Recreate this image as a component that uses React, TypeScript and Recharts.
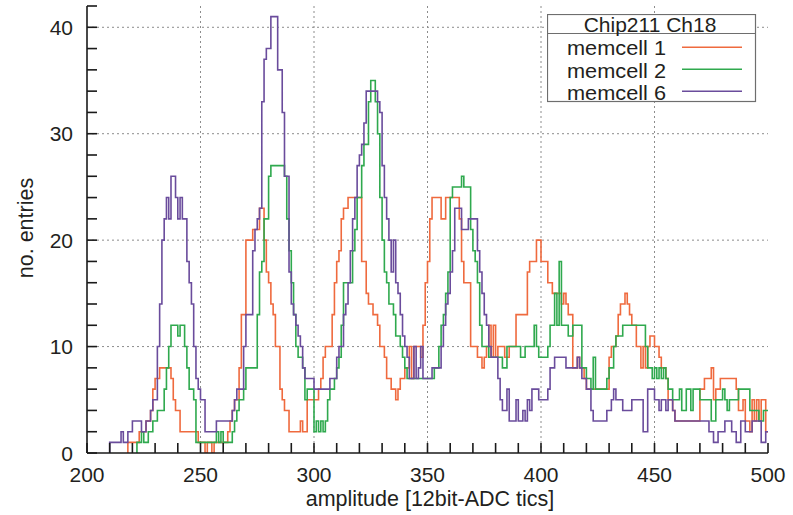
import React from 'react';
import { LineChart, Line, XAxis, YAxis, CartesianGrid, Legend } from 'recharts';

const FONT = '"Liberation Sans", Arial, Helvetica, sans-serif';

// tick values
const xTicks = [200, 210, 220, 230, 240, 250, 260, 270, 280, 290, 300, 310, 320, 330, 340, 350, 360, 370, 380, 390, 400, 410, 420, 430, 440, 450, 460, 470, 480, 490, 500];
const xLabelled = [200, 250, 300, 350, 400, 450, 500];
const yTicks = [0, 2, 4, 6, 8, 10, 12, 14, 16, 18, 20, 22, 24, 26, 28, 30, 32, 34, 36, 38, 40, 42];
const yLabelled = [0, 10, 20, 30, 40];
const xGrid = [250, 300, 350, 400, 450];
const yGrid = [10, 20, 30, 40];

// histogram steps: [bin start (ADC tic), entries]
const memcell1: [number, number][] = [
  [218, 0], [218, 1], [223, 2], [226, 3], [228, 4], [229, 6], [230, 7], [232, 8], [237, 7], [238, 5], [239, 4], [241, 2],
  [249, 1], [252, 0], [253, 1], [255, 0], [256, 1], [262, 2], [263, 3], [264, 4], [265, 5], [267, 8], [268, 13], [270, 20],
  [273, 21], [276, 23], [278, 20], [279, 17], [280, 16], [281, 14], [282, 13], [283, 10], [285, 6], [286, 5], [287, 4],
  [289, 2], [294, 3], [295, 2], [297, 5], [302, 6], [303, 7], [304, 9], [305, 10], [308, 13], [309, 16], [310, 18],
  [311, 19], [312, 22], [313, 23], [315, 24], [321, 18], [323, 15], [324, 14], [326, 13], [328, 12], [329, 10], [331, 9],
  [332, 7], [334, 6], [336, 5], [337, 6], [338, 7], [340, 8], [342, 10], [343, 7], [344, 10], [347, 9], [348, 12],
  [349, 16], [350, 18], [351, 22], [352, 24], [356, 22], [358, 24], [364, 22], [365, 18], [366, 16], [369, 10], [372, 9],
  [374, 8], [375, 9], [376, 10], [377, 12], [378, 9], [379, 12], [380, 9], [381, 10], [384, 9], [386, 10], [389, 13],
  [394, 17], [395, 18], [398, 20], [400, 18], [403, 16], [405, 15], [409, 14], [410, 15], [411, 14], [412, 13], [414, 8],
  [416, 9], [417, 8], [419, 7], [420, 6], [430, 9], [431, 10], [433, 11], [434, 13], [435, 14], [437, 15], [438, 14],
  [439, 13], [440, 12], [442, 10], [444, 8], [445, 10], [446, 8], [447, 10], [448, 11], [450, 10], [452, 9], [453, 8],
  [455, 7], [456, 5], [458, 4], [459, 3], [470, 6], [472, 7], [475, 8], [476, 5], [477, 6], [479, 7], [486, 6], [487, 4],
  [489, 5], [490, 3], [492, 2], [493, 5], [494, 3], [495, 5], [496, 3], [497, 5], [499, 2], [500, 2],
];

const memcell2: [number, number][] = [
  [222, 0], [222, 1], [224, 2], [225, 1], [227, 2], [229, 3], [231, 4], [234, 6], [235, 8], [236, 10], [237, 12], [240, 11],
  [241, 12], [243, 10], [244, 8], [245, 6], [247, 5], [248, 1], [257, 2], [258, 1], [259, 2], [260, 1], [264, 2], [265, 3],
  [266, 4], [267, 5], [269, 6], [270, 8], [275, 13], [276, 17], [277, 18], [278, 22], [280, 26], [281, 27], [287, 26],
  [288, 22], [289, 19], [290, 16], [291, 13], [292, 10], [293, 9], [295, 8], [296, 5], [297, 6], [300, 2], [301, 3],
  [302, 2], [303, 3], [304, 2], [305, 3], [306, 5], [307, 6], [309, 7], [310, 8], [311, 9], [312, 12], [313, 16], [317, 19],
  [318, 21], [319, 24], [321, 27], [322, 29], [324, 33], [325, 35], [327, 33], [328, 30], [329, 24], [330, 20], [331, 17],
  [332, 16], [333, 14], [335, 13], [336, 11], [338, 10], [339, 9], [340, 8], [341, 7], [353, 8], [355, 10], [356, 12],
  [357, 13], [358, 15], [359, 17], [360, 24], [361, 25], [365, 26], [366, 25], [369, 21], [370, 19], [371, 18], [372, 16],
  [373, 12], [374, 10], [377, 9], [383, 8], [385, 10], [391, 9], [393, 10], [397, 12], [398, 10], [399, 9], [403, 10],
  [404, 12], [406, 15], [407, 12], [408, 18], [409, 12], [412, 11], [414, 12], [418, 8], [420, 7], [422, 6], [423, 9],
  [424, 6], [429, 7], [430, 8], [432, 10], [433, 11], [436, 12], [446, 10], [447, 8], [449, 7], [450, 8], [451, 7],
  [452, 8], [453, 7], [454, 8], [455, 7], [456, 6], [458, 5], [461, 6], [462, 4], [464, 6], [466, 4], [467, 6], [470, 5],
  [475, 3], [477, 5], [480, 6], [481, 5], [482, 4], [483, 5], [487, 6], [492, 4], [496, 3], [498, 4], [500, 4],
];

const memcell6: [number, number][] = [
  [210, 0], [210, 1], [215, 2], [216, 1], [218, 2], [220, 3], [224, 2], [226, 3], [228, 4], [229, 5], [231, 10], [232, 14],
  [233, 20], [234, 22], [235, 24], [236, 22], [237, 26], [239, 24], [240, 22], [241, 24], [242, 22], [244, 18], [245, 16],
  [246, 14], [247, 10], [248, 7], [249, 6], [250, 5], [252, 2], [257, 3], [264, 4], [265, 5], [266, 6], [269, 10], [270, 13],
  [273, 19], [274, 21], [275, 22], [276, 23], [277, 33], [278, 37], [279, 38], [281, 41], [284, 36], [286, 32], [287, 26],
  [289, 17], [290, 14], [291, 13], [292, 12], [293, 11], [294, 10], [295, 8], [296, 7], [300, 6], [307, 7], [310, 9],
  [311, 10], [313, 13], [314, 14], [315, 16], [316, 19], [317, 22], [318, 24], [319, 27], [320, 28], [321, 29], [322, 31],
  [323, 34], [328, 33], [329, 32], [330, 27], [331, 24], [332, 22], [333, 20], [334, 17], [335, 20], [336, 16], [337, 15],
  [338, 13], [339, 11], [340, 10], [341, 9], [342, 7], [344, 10], [345, 7], [346, 8], [347, 10], [348, 7], [352, 8],
  [356, 10], [357, 12], [358, 14], [359, 15], [360, 17], [361, 19], [362, 23], [365, 21], [368, 22], [372, 19], [373, 17],
  [374, 15], [375, 13], [376, 12], [377, 10], [378, 9], [381, 7], [382, 5], [383, 4], [385, 6], [386, 3], [388, 3],
  [389, 5], [390, 3], [392, 4], [393, 3], [394, 5], [395, 4], [396, 6], [399, 5], [403, 6], [404, 8], [406, 9], [411, 8],
  [416, 9], [417, 8], [418, 7], [420, 6], [422, 4], [423, 3], [429, 4], [431, 5], [432, 6], [433, 5], [436, 4], [440, 5],
  [445, 2], [447, 6], [450, 5], [452, 4], [453, 5], [455, 4], [456, 5], [458, 4], [459, 3], [474, 2], [476, 1], [478, 2],
  [481, 3], [484, 2], [486, 1], [488, 3], [490, 2], [493, 3], [497, 1], [499, 2], [500, 2],
];

const seriesNames = ['memcell 1', 'memcell 2', 'memcell 6'];
const seriesColors = ['#ef6a3e', '#2fa94e', '#6a4c9c'];
const seriesSteps = [memcell1, memcell2, memcell6];

const toPoints = (steps: [number, number][]) => steps.map(([x, y]) => ({ x, y }));

const AX = '#1a1a1a';
const TXT = '#231f20';

const BottomTick = (props: any) => {
  const { x, y, payload } = props;
  return (
    <g>
      <line x1={x} x2={x} y1={y} y2={y - 10} stroke={AX} strokeWidth={1.6} />
      {xLabelled.includes(payload.value) && (
        <text x={x} y={y + 29} textAnchor="middle" fontSize={21} fontFamily={FONT} fill={TXT}>
          {payload.value}
        </text>
      )}
    </g>
  );
};

const TopTick = (props: any) => {
  const { x, y } = props;
  return <line x1={x} x2={x} y1={y} y2={y + 10} stroke={AX} strokeWidth={1.6} />;
};

const LeftTick = (props: any) => {
  const { x, y, payload } = props;
  return (
    <g>
      <line x1={x} x2={x + 10} y1={y} y2={y} stroke={AX} strokeWidth={1.6} />
      {yLabelled.includes(payload.value) && (
        <text x={x - 14} y={y + 7.5} textAnchor="end" fontSize={21} fontFamily={FONT} fill={TXT}>
          {payload.value}
        </text>
      )}
    </g>
  );
};

const RightTick = (props: any) => {
  const { x, y } = props;
  return <line x1={x} x2={x - 10} y1={y} y2={y} stroke={AX} strokeWidth={1.6} />;
};

const XTitle = () => (
  <text x={430} y={506} textAnchor="middle" fontSize={21.5} fontFamily={FONT} fill={TXT}>
    amplitude [12bit-ADC tics]
  </text>
);

const YTitle = () => (
  <text x={33} y={228} textAnchor="middle" fontSize={21.5} fontFamily={FONT} fill={TXT} transform="rotate(-90 33 228)">
    no. entries
  </text>
);

const LegendBox = () => (
  <svg width={210} height={89} style={{ display: 'block' }}>
    <rect x={0.5} y={0.5} width={208} height={87} fill="#ffffff" stroke="#6e6e6e" strokeWidth={1.2} />
    <line x1={0.5} x2={208.5} y1={19.5} y2={19.5} stroke="#6e6e6e" strokeWidth={1.2} />
    <text x={103} y={18} textAnchor="middle" fontSize={21} fontFamily={FONT} fill={TXT}>
      Chip211 Ch18
    </text>
    {seriesNames.map((name, i) => (
      <g key={name}>
        <text x={20} y={41 + i * 22.5} fontSize={20} fontFamily={FONT} fill={TXT} textLength={99} lengthAdjust="spacingAndGlyphs">
          {name}
        </text>
        <line x1={135} x2={195} y1={33.3 + i * 22} y2={33.3 + i * 22} stroke={seriesColors[i]} strokeWidth={1.6} />
      </g>
    ))}
  </svg>
);

export default function App() {
  return (
    <div style={{ position: 'absolute', left: 0, top: 0, width: 793, height: 515, background: '#ffffff' }}>
      <LineChart width={793} height={515} margin={{ top: 6, right: 25, bottom: 0, left: 0 }}>
        <CartesianGrid
          xAxisId="b"
          yAxisId="l"
          horizontalValues={yGrid}
          verticalValues={xGrid}
          stroke="#8c8c8c"
          strokeWidth={1}
          strokeDasharray="2 3"
        />
        <XAxis
          xAxisId="b"
          type="number"
          dataKey="x"
          domain={[200, 500]}
          ticks={xTicks}
          interval={0}
          allowDataOverflow
          height={62}
          tickSize={0}
          tickMargin={0}
          tickLine={false}
          axisLine={{ stroke: AX, strokeWidth: 1.6 }}
          tick={BottomTick}
          label={<XTitle />}
        />
        <XAxis
          xAxisId="t"
          orientation="top"
          type="number"
          dataKey="x"
          domain={[200, 500]}
          ticks={xTicks}
          interval={0}
          allowDataOverflow
          height={0}
          tickSize={0}
          tickMargin={0}
          tickLine={false}
          axisLine={{ stroke: AX, strokeWidth: 1.6 }}
          tick={TopTick}
        />
        <YAxis
          yAxisId="l"
          type="number"
          domain={[0, 42]}
          ticks={yTicks}
          interval={0}
          allowDataOverflow
          width={87}
          tickSize={0}
          tickMargin={0}
          tickLine={false}
          axisLine={{ stroke: AX, strokeWidth: 1.6 }}
          tick={LeftTick}
          label={<YTitle />}
        />
        <YAxis
          yAxisId="r"
          orientation="right"
          type="number"
          domain={[0, 42]}
          ticks={yTicks}
          interval={0}
          allowDataOverflow
          width={0}
          tickSize={0}
          tickMargin={0}
          tickLine={false}
          axisLine={{ stroke: AX, strokeWidth: 1.6 }}
          tick={RightTick}
        />
        <Legend
          layout="horizontal"
          verticalAlign="middle"
          align="center"
          content={<LegendBox />}
          wrapperStyle={{ position: 'absolute', left: 547, top: 14, width: 210, height: 89, margin: 0, padding: 0 }}
        />
        {seriesSteps.map((steps, i) => (
          <Line
            key={seriesNames[i]}
            name={seriesNames[i]}
            xAxisId="b"
            yAxisId="l"
            data={toPoints(steps)}
            dataKey="y"
            type="stepAfter"
            stroke={seriesColors[i]}
            strokeWidth={1.6}
            dot={false}
            activeDot={false}
            isAnimationActive={false}
          />
        ))}
      </LineChart>
    </div>
  );
}
